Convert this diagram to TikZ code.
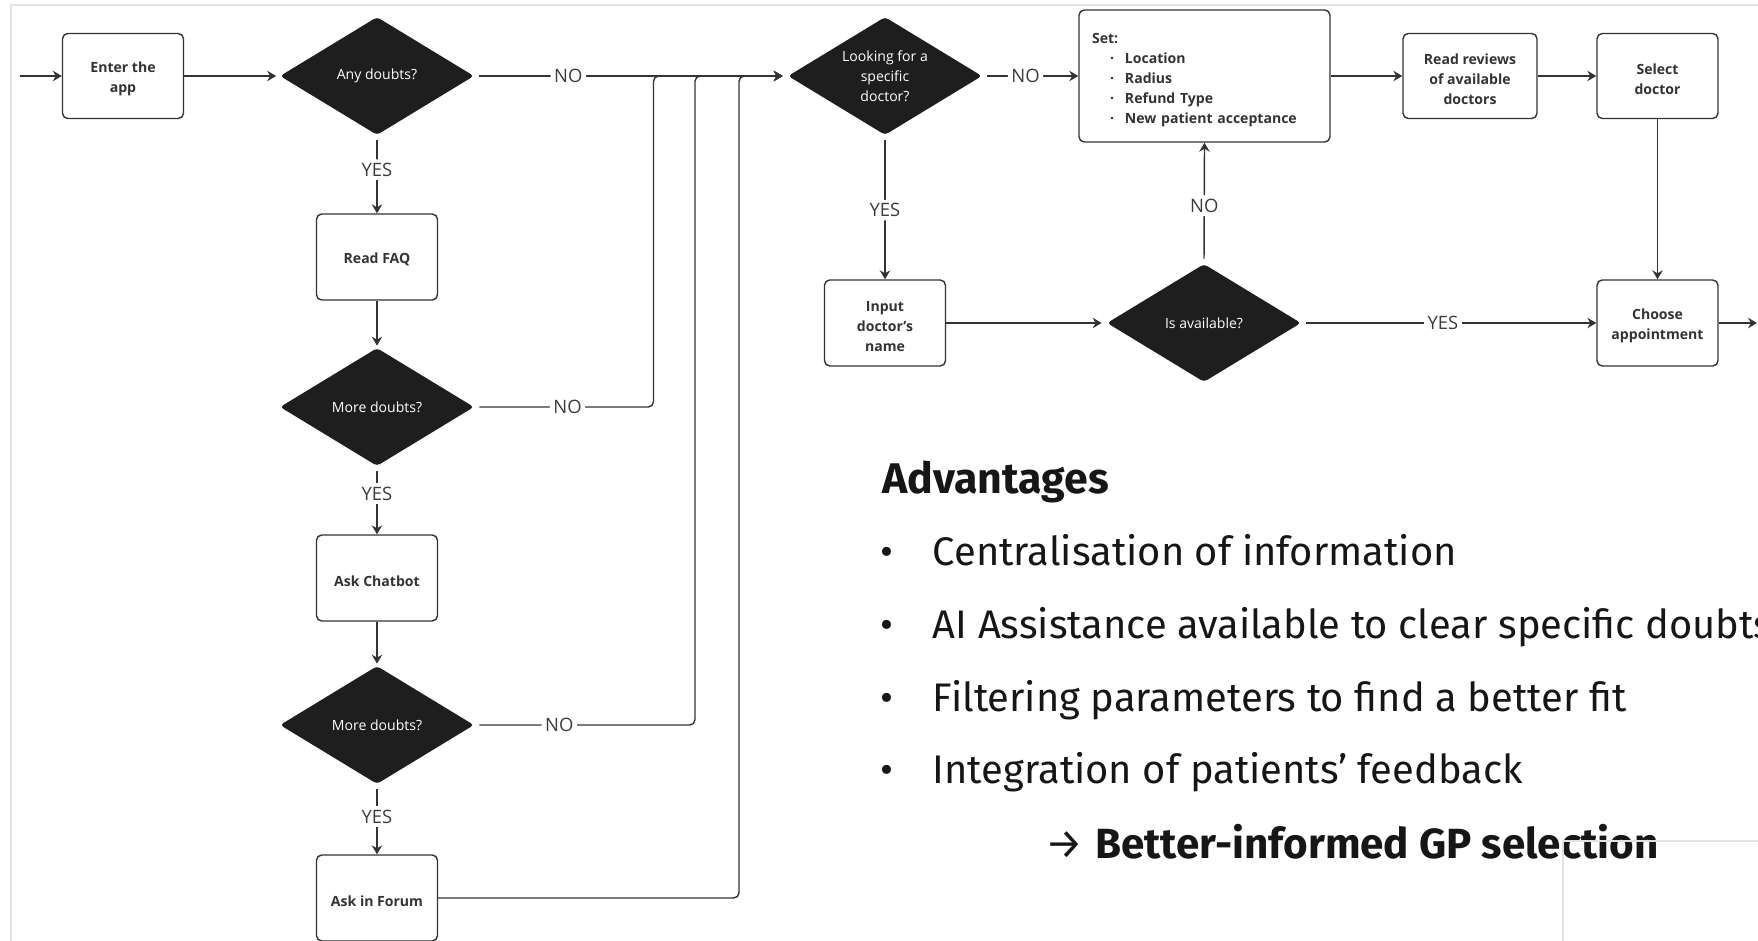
\documentclass[tikz,border=0pt]{standalone}
\usepackage{fontspec}
\setmainfont{Open Sans}
\newfontfamily\advfont{Fira Sans}
\usepackage{xcolor}
\usepackage{tikz}
\usetikzlibrary{arrows.meta,positioning,shapes.geometric}

\definecolor{inkgray}{HTML}{333333}
\definecolor{diamondfill}{HTML}{1E1E1E}
\definecolor{labelgray}{HTML}{3C3C3C}
\definecolor{framegray}{HTML}{E2E2E2}
\definecolor{textblack}{HTML}{161616}

\begin{document}
\begin{tikzpicture}[
        x=0.2mm, y=-0.2mm,
        >={Stealth[length=1.8mm, width=2.1mm, inset=0.6mm]},
        % 流程中的普通步骤框
        step_box/.style={draw=inkgray, fill=white, line width=0.8pt, rounded corners=3pt, minimum width=2.42cm, minimum height=1.72cm, align=center, inner sep=2pt, text=inkgray, font=\fontsize{8}{11.4}\selectfont\bfseries},
        set_box/.style={step_box, minimum width=5.02cm, minimum height=2.64cm, text width=4.5cm, inner xsep=0.26cm, align=left},
        % 黑色判断菱形
        decision/.style={diamond, aspect=1.64, fill=diamondfill, draw=none, rounded corners=2pt, minimum width=3.88cm, minimum height=2.36cm, inner sep=0pt, align=center, text=white, font=\fontsize{8}{11.4}\selectfont},
        arrow/.style={->, line width=0.8pt, draw=inkgray, rounded corners=3pt},
        lbl/.style={fill=white, inner sep=2pt, text=labelgray, font=\fontsize{10.5}{12}\selectfont},
        frame_line/.style={draw=framegray, line width=0.6pt},
        adv_text/.style={anchor=base west, inner sep=0pt, text=textblack, font=\advfont\fontsize{22.7}{27}\selectfont}
    ]

    % 画布 (1758 x 941 像素)
    \useasboundingbox (0,0) rectangle (1758,941);
    \clip (0,0) rectangle (1758,941);

    % ==========================================
    % 1. 左侧: 疑问解答流程 (X = 377)
    % ==========================================
    \node[step_box, minimum height=1.7cm] (enter) at (123, 76) {\rule{0pt}{9.3pt}Enter the\\app};
    \node[decision] (doubts) at (377, 76) {Any doubts?};
    \node[step_box] (faq) at (377, 257) {\rule{0pt}{9.3pt}Read FAQ};
    \node[decision] (more_a) at (377, 407) {More doubts?};
    \node[step_box] (chatbot) at (377, 578) {\rule{0pt}{9.3pt}Ask Chatbot};
    \node[decision] (more_b) at (377, 725) {More doubts?};
    \node[step_box] (forum) at (377, 898) {\rule{0pt}{9.3pt}Ask in Forum};

    % ==========================================
    % 2. 右侧: 选择医生流程
    % ==========================================
    \node[decision] (looking) at (885, 76) {Looking for a\\specific\\doctor?};
    \node[set_box] (filters) at (1204.5, 76) {\rule{0pt}{10.5pt}Set:\\
        \hspace*{0.36cm}\makebox[0.3cm][l]{·}Location\\
        \hspace*{0.36cm}\makebox[0.3cm][l]{·}Radius\\
        \hspace*{0.36cm}\makebox[0.3cm][l]{·}Refund Type\\
        \hspace*{0.36cm}\makebox[0.3cm][l]{·}New patient acceptance};
    \node[step_box, minimum width=2.68cm, minimum height=1.7cm] (reviews) at (1470, 76) {\rule{0pt}{9.3pt}Read reviews\\of available\\doctors};
    \node[step_box, minimum height=1.7cm] (select) at (1657.5, 76) {\rule{0pt}{9.3pt}Select\\doctor};

    \node[step_box] (input) at (885, 323) {\rule{0pt}{9.3pt}Input\\doctor's\\name};
    \node[decision] (avail) at (1204, 323) {Is available?};
    \node[step_box] (choose) at (1657.5, 323) {\rule{0pt}{9.3pt}Choose\\appointment};

    % 入口 / 出口 与 汇流竖线
    \coordinate (entry) at (20, 76);
    \coordinate (exit) at (1757, 323);
    \coordinate (bus_a) at (653.5, 76);
    \coordinate (bus_b) at (695, 76);
    \coordinate (bus_c) at (739, 76);

    % ==========================================
    % 3. 连线
    % ==========================================
    % --- 左列主干 ---
    \draw[arrow] (entry) -- (enter.west);
    \draw[arrow, shorten >=0.7mm] (enter.east) -- (doubts.west);
    \draw[arrow, shorten <=1mm] (doubts.south) -- node[lbl, pos=0.44] {YES} (faq.north);
    \draw[arrow, shorten >=0.4mm] (faq.south) -- (more_a.north);
    \draw[arrow, shorten <=1mm] (more_a.south) -- node[lbl, pos=0.4] {YES} (chatbot.north);
    \draw[arrow, shorten >=0.4mm] (chatbot.south) -- (more_b.north);
    \draw[arrow, shorten <=1mm] (more_b.south) -- node[lbl, pos=0.46] {YES} (forum.north);

    % --- NO 分支汇入顶部横线 ---
    \draw[arrow, shorten <=1mm, shorten >=1mm] (doubts.east) -- node[lbl, pos=0.3] {NO} (looking.west);
    \draw[arrow, shorten <=1mm, shorten >=1mm] (more_a.east) -- node[lbl, pos=0.52] {NO} (more_a.east -| bus_a) -- (bus_a) -- (looking.west);
    \draw[arrow, shorten <=1mm, shorten >=1mm] (more_b.east) -- node[lbl, pos=0.385] {NO} (more_b.east -| bus_b) -- (bus_b) -- (looking.west);
    \draw[arrow, shorten >=1mm] (forum.east) -- (forum.east -| bus_c) -- (bus_c) -- (looking.west);

    % --- 右侧流程 ---
    \draw[arrow, shorten <=1mm] (looking.east) -- node[lbl, pos=0.45] {NO} (filters.west);
    \draw[arrow, shorten <=1mm] (looking.south) -- node[lbl, pos=0.52] {YES} (input.north);
    \draw[arrow, shorten >=1mm] (input.east) -- (avail.west);
    \draw[arrow, shorten <=1mm] (avail.north) -- node[lbl, pos=0.48] {NO} (filters.south);
    \draw[arrow, shorten <=1mm] (avail.east) -- node[lbl, pos=0.48] {YES} (choose.west);
    \draw[arrow] (filters.east) -- (reviews.west);
    \draw[arrow] (reviews.east) -- (select.west);
    \draw[arrow] (select.south) -- (choose.north);
    \draw[arrow] (choose.east) -- (exit);

    % ==========================================
    % 4. 优势说明文字
    % ==========================================
    \node[adv_text, font=\advfont\fontsize{24.4}{29}\selectfont\bfseries] (adv_title) at (882, 493) {Advantages};
    \node[adv_text] (adv_1) at (880, 565) {\makebox[1.05cm][l]{•}Centralisation of information};
    \node[adv_text] (adv_2) at (880, 638) {\makebox[1.05cm][l]{•}AI Assistance available to clear specific doubts};
    \node[adv_text] (adv_3) at (880, 711) {\makebox[1.05cm][l]{•}Filtering parameters to find a better fit};
    \node[adv_text] (adv_4) at (880, 783) {\makebox[1.05cm][l]{•}Integration of patients’ feedback};
    \node[adv_text, font=\advfont\fontsize{24}{29}\selectfont] (adv_result) at (1045, 858) {\makebox[1.0cm][l]{→}\textbf{Better-informed GP selection}};

    % 外框细线
    \draw[frame_line] (11, 941) -- (11, 5) -- (1758, 5);
    \draw[frame_line] (1563, 941) -- (1563, 841) -- (1758, 841);

\end{tikzpicture}
\end{document}
